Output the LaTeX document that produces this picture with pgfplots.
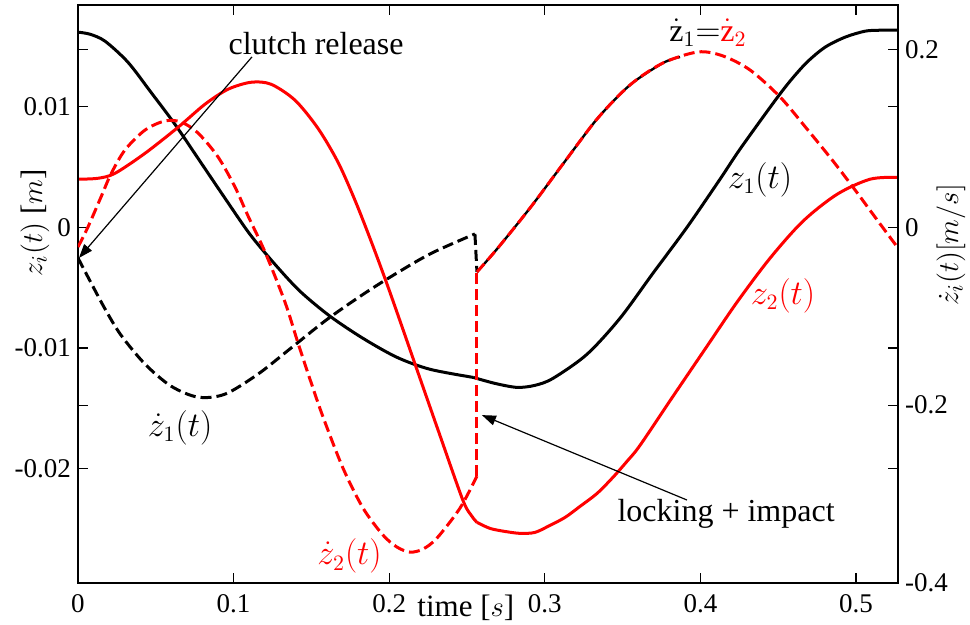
\documentclass[border=0pt]{standalone}
\usepackage{pgfplots}
\pgfplotsset{compat=1.18}
\usepackage{fontspec}
\setmainfont{Liberation Serif}
\usetikzlibrary{arrows.meta}
\definecolor{myred}{RGB}{255,0,0}

\begin{document}
\begin{tikzpicture}
\pgfplotsset{
  common/.style={
    scale only axis, width=410pt, height=289pt,
    xmin=0, xmax=0.527,
    tick align=inside, major tick length=5pt,
    every tick/.style={black, line width=0.6pt},
    axis line style={line width=1pt},
    scaled ticks=false,
    ticklabel style={font=\fontsize{13.5}{16}\selectfont},
    label style={font=\fontsize{15.5}{18}\selectfont},
  },
  curve/.style={line width=1.5pt, smooth, tension=0.5},
  dashc/.style={line width=1.5pt, dash pattern=on 5.5pt off 2.5pt},
}
% ---------------- left axis: positions ----------------
\begin{axis}[common,
  ymin=-0.02946, ymax=0.01841,
  tick pos=both,
  xtick={0,0.1,0.2,0.3,0.4,0.5}, xticklabels={0,0.1,0.2,0.3,0.4,0.5},
  ytick={-0.02,-0.01,0,0.01}, yticklabels={-0.02,-0.01,0,0.01},
  xticklabel style={yshift=-2pt},
  xlabel={time [$s$]},
  xlabel style={at={(axis description cs:0.473,-0.0588)}, anchor=base},
  ylabel={$z_i(t)$ [$m$]},
  ylabel style={at={(axis description cs:-0.0439,0.623)}, anchor=base, rotate=0},
]
% z1(t)
\addplot[black, curve] coordinates {
(0,0.01616) (0.0077,0.01599) (0.0174,0.01541) (0.0321,0.01367) (0.0469,0.01118)
(0.0623,0.00853) (0.0784,0.00547) (0.0945,0.00240) (0.1105,-0.00058) (0.1266,-0.00307)
(0.1427,-0.00530) (0.1620,-0.00737) (0.1832,-0.00920) (0.2050,-0.01077) (0.2262,-0.01176)
(0.2539,-0.01243)
};
\addplot[black, curve] coordinates {
(0.2539,-0.01243) (0.2680,-0.01293) (0.2821,-0.01326) (0.2937,-0.01309) (0.3053,-0.01251)
(0.3271,-0.01052) (0.3483,-0.00754) (0.3695,-0.00381) (0.3914,0) (0.4126,0.00398)
(0.4254,0.00646) (0.4467,0.01027) (0.4576,0.01210) (0.4685,0.01367) (0.4801,0.01491)
(0.4929,0.01574) (0.5058,0.01624) (0.5154,0.01632) (0.5270,0.01632)
};
% z2(t)
\addplot[myred, curve] coordinates {
(0,0.00398) (0.0129,0.00406) (0.0238,0.00447) (0.0431,0.00613) (0.0643,0.00828)
(0.0816,0.01019) (0.0964,0.01143) (0.1112,0.01201) (0.1240,0.01185) (0.1395,0.01052)
(0.1542,0.00820) (0.1671,0.00539) (0.1780,0.00224) (0.1889,-0.00133) (0.2005,-0.00539)
(0.2198,-0.01251) (0.2326,-0.01723) (0.2474,-0.02262) (0.2532,-0.02394) (0.2564,-0.02444)
};
\addplot[myred, curve] coordinates {
(0.2564,-0.02444) (0.2648,-0.02494) (0.2744,-0.02519) (0.2841,-0.02535) (0.2937,-0.02527)
(0.3033,-0.02469) (0.3130,-0.02403) (0.3226,-0.02312) (0.3336,-0.02204) (0.3438,-0.02071)
(0.3528,-0.01939) (0.3612,-0.01806) (0.3824,-0.01400) (0.4042,-0.00986) (0.4235,-0.00621)
(0.4447,-0.00257) (0.4659,0.00050) (0.4878,0.00273) (0.5090,0.00398) (0.5263,0.00414)
};
\end{axis}
% ---------------- right axis: velocities ----------------
\begin{axis}[common,
  ymin=-0.4, ymax=0.25,
  hide x axis,
  ytick pos=both, yticklabel pos=right,
  ytick={-0.4,-0.2,0,0.2}, yticklabels={-0.4,-0.2,0,0.2},
  ylabel={$\dot z_i(t)[m/s]$},
  ylabel style={at={(axis description cs:1.0732,0.585)}, anchor=base, rotate=0},
]
% zdot1 before locking
\addplot[black, dashc, smooth, tension=0.5] coordinates {
(0,-0.0345) (0.0064,-0.0559) (0.0174,-0.0919) (0.0276,-0.1212) (0.0431,-0.1539)
(0.0598,-0.1786) (0.0771,-0.1910) (0.0945,-0.1876) (0.1157,-0.1651) (0.1369,-0.1358)
(0.1587,-0.1054) (0.1787,-0.0807) (0.1986,-0.0582) (0.2262,-0.0300) (0.2551,-0.0075)
};
\addplot[black, dashc] coordinates {(0.2551,-0.0075) (0.2564,-0.0503)};
% zdot1 after locking (under zdot2)
\addplot[black, line width=1.2pt, smooth, tension=0.5] coordinates {
(0.2564,-0.0503) (0.2693,-0.0244) (0.2905,0.0217) (0.3117,0.0712) (0.3336,0.1218)
(0.3548,0.1601) (0.3760,0.1848) (0.3869,0.1916)
};
% zdot2
\addplot[myred, dashc, smooth, tension=0.5] coordinates {
(0,-0.0222) (0.0064,0.0003) (0.0148,0.0341) (0.0212,0.0600) (0.0302,0.0870)
(0.0431,0.1094) (0.0559,0.1196) (0.0662,0.1184) (0.0771,0.1061) (0.0900,0.0791)
(0.1009,0.0453) (0.1093,0.0127) (0.1202,-0.0278) (0.1330,-0.0840) (0.1414,-0.1301)
(0.1497,-0.1740) (0.1575,-0.2134) (0.1703,-0.2708) (0.1832,-0.3158) (0.1960,-0.3461)
(0.2050,-0.3596) (0.2134,-0.3653) (0.2217,-0.3619) (0.2307,-0.3495) (0.2455,-0.3158)
(0.2564,-0.2798)
};
\addplot[myred, dashc] coordinates {(0.2564,-0.2798) (0.2564,-0.0503)};
\addplot[myred, dashc, smooth, tension=0.5] coordinates {
(0.2564,-0.0503) (0.2693,-0.0244) (0.2905,0.0217) (0.3117,0.0712) (0.3336,0.1218)
(0.3548,0.1601) (0.3760,0.1848) (0.3985,0.1972) (0.4145,0.1927) (0.4319,0.1769)
(0.4512,0.1466) (0.4685,0.1106) (0.4852,0.0746) (0.4994,0.0420) (0.5122,0.0116)
(0.5270,-0.0233)
};
% annotations
\node[anchor=base, font=\fontsize{16}{19}\selectfont] at (0.1530,0.1938) {clutch release};
\draw[black, line width=0.6pt, -{Triangle[length=7pt,width=5pt]}] (0.1118,0.1916) -- (0.0006,-0.0345);
\node[anchor=base, font=\fontsize{16}{19}\selectfont] at (0.4165,-0.3314) {locking + impact};
\draw[black, line width=0.6pt, -{Triangle[length=7pt,width=5pt]}] (0.3914,-0.3067) -- (0.2596,-0.2112);
\node[font=\fontsize{16}{19}\selectfont] at (0.4383,0.0532) {$z_1(t)$};
\node[font=\fontsize{16}{19}\selectfont, text=myred] at (0.4531,-0.0774) {$z_2(t)$};
\node[font=\fontsize{16}{19}\selectfont] at (0.0656,-0.2250) {$\dot z_1(t)$};
\node[font=\fontsize{16}{19}\selectfont, text=myred] at (0.1745,-0.3700) {$\dot z_2(t)$};
\node[font=\fontsize{16}{19}\selectfont] at (0.4049,0.2185) {$\dot{\mathrm{z}}_1{=}\textcolor{myred}{\dot{\mathrm{z}}_2}$};
\end{axis}
\pgfresetboundingbox
\useasboundingbox (-39pt,-21pt) rectangle (446pt,291.5pt);
\end{tikzpicture}
\end{document}
